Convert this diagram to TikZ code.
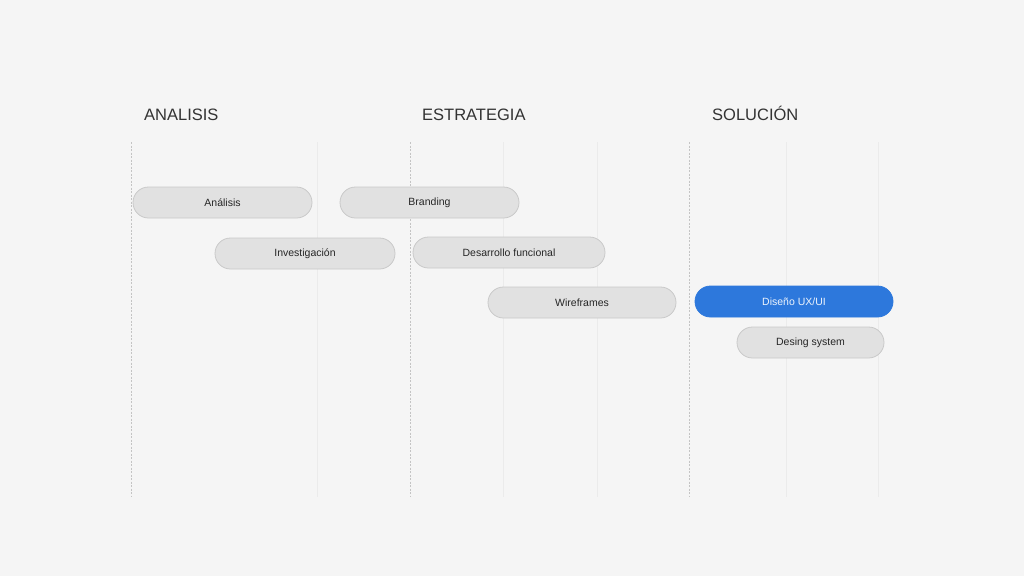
\documentclass[tikz,border=0pt]{standalone}
\usepackage{fontspec}
\setmainfont{Liberation Sans}
\definecolor{bg}{HTML}{F5F5F5}
\definecolor{pillfill}{HTML}{E1E1E1}
\definecolor{pillline}{HTML}{C9C9C9}
\definecolor{bluefill}{HTML}{2D78DC}
\definecolor{headtxt}{HTML}{333333}
\definecolor{dashcol}{HTML}{C4C4C4}
\definecolor{gridcol}{HTML}{EBEBEB}
\tikzset{
  pill/.style={draw=pillline, line width=0.8pt, fill=pillfill, rounded corners=15.5pt,
    minimum height=31pt, inner sep=0pt, font=\fontsize{10.5}{12}\selectfont, text=black!85},
  bluepill/.style={pill, draw=bluefill, fill=bluefill, text=white!92!bluefill},
  phase/.style={anchor=base west, font=\fontsize{16.5}{19}\selectfont, text=headtxt, inner sep=0pt},
  dashline/.style={draw=dashcol, line width=0.8pt, dash pattern=on 2pt off 1.5pt},
  gridline/.style={draw=gridcol, line width=0.8pt}
}
\begin{document}
\begin{tikzpicture}[x=1pt,y=-1pt]
\fill[bg] (0,0) rectangle (1024,576);
\useasboundingbox (0,0) rectangle (1024,576);
% grid lines
\foreach \x/\n in {317/g1,503/g2,597/g3,786/g4,878/g5}{
  \coordinate (\n t) at (\x,142);
  \coordinate (\n b) at (\x,497);
  \draw[gridline] (\n t) -- (\n b);
}
\foreach \x/\n in {131/d1,410/d2,689/d3}{
  \coordinate (\n t) at (\x,142);
  \coordinate (\n b) at (\x,497);
  \draw[dashline] (\n t) -- (\n b);
}
% headers
\node[phase] (h1) at (144,120) {ANALISIS};
\node[phase] (h2) at (422,120) {ESTRATEGIA};
\node[phase] (h3) at (712,120) {SOLUCIÓN};
% pills
\node[pill, minimum width=179pt] (p1) at (222.5,202.5) {Análisis};
\node[pill, minimum width=179pt] (p2) at (429.5,202.5) {Branding};
\node[pill, minimum width=180pt] (p3) at (305,253.5) {Investigación};
\node[pill, minimum width=192pt] (p4) at (509,252.5) {Desarrollo funcional};
\node[pill, minimum width=188pt] (p5) at (582,302.5) {Wireframes};
\node[bluepill, minimum width=198pt] (p6) at (794,301.5) {Diseño UX/UI};
\node[pill, minimum width=147pt] (p7) at (810.5,342.5) {Desing system};
\end{tikzpicture}
\end{document}
